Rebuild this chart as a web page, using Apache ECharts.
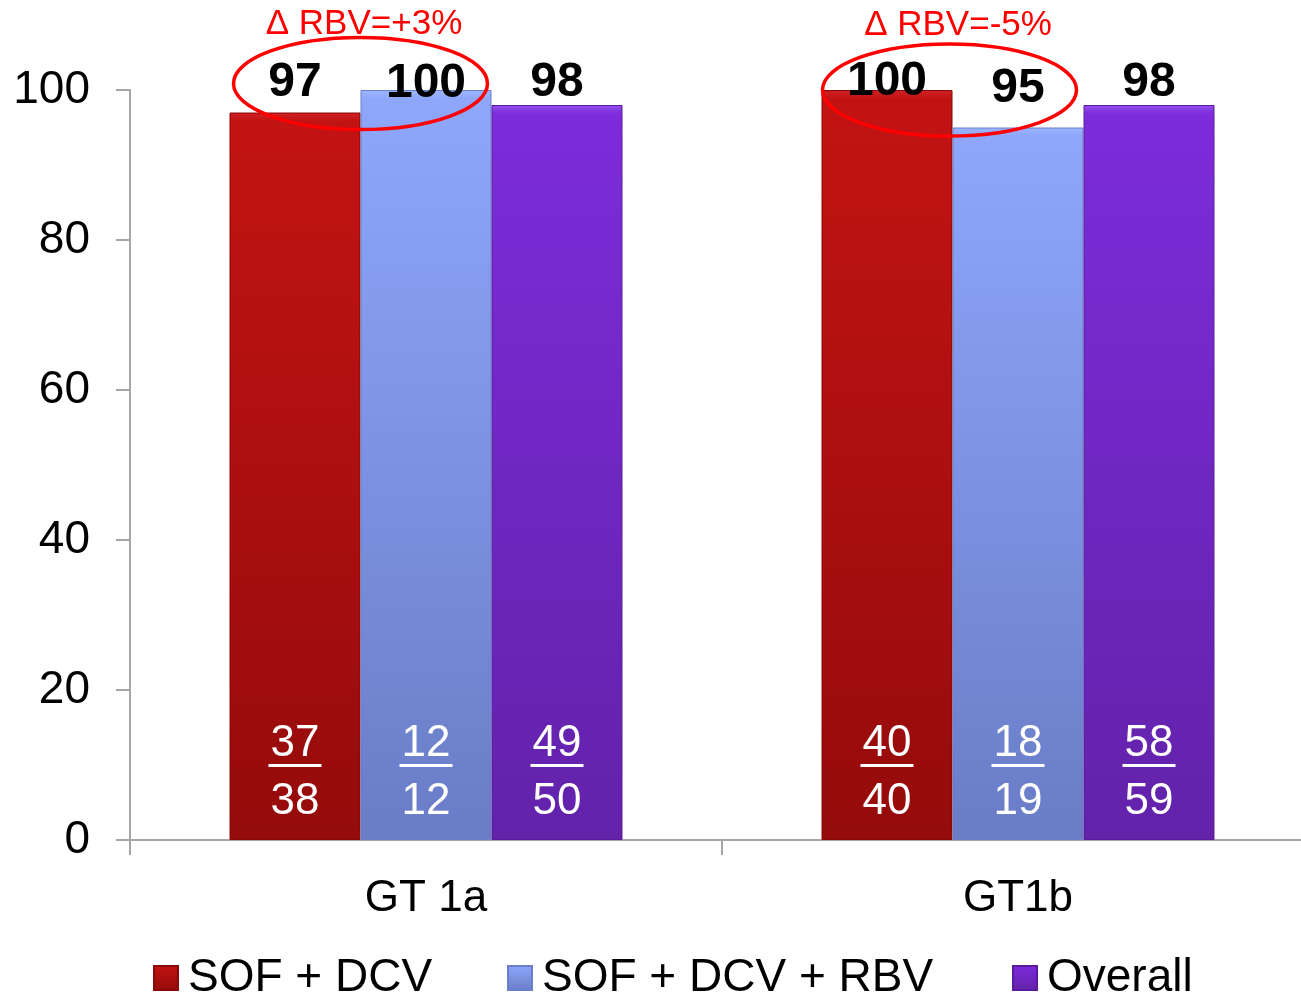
<!DOCTYPE html>
<html>
<head>
<meta charset="utf-8">
<script src="https://cdn.jsdelivr.net/npm/echarts@6/dist/echarts.min.js"></script>
<style>
html,body{margin:0;padding:0;background:#fff;overflow:hidden;width:1301px;height:993px;}
#chart{width:1314px;height:993px;}
</style>
</head>
<body>
<div id="chart"></div>
<script>
// ---------- data ----------
const categories = ['GT 1a', 'GT1b'];
const seriesNames = ['SOF + DCV', 'SOF + DCV + RBV', 'Overall'];
const sofDcv = [97, 100];
const sofDcvRbv = [100, 95];
const overall = [98, 98];
const sofDcvResponders = [37, 40];
const sofDcvPatients = [38, 40];
const sofDcvRbvResponders = [12, 18];
const sofDcvRbvPatients = [12, 19];
const overallResponders = [49, 58];
const overallPatients = [50, 59];
const yMin = 0, yMax = 100, yInterval = 20;
const annotations = ['\u0394 RBV=+3%', '\u0394 RBV=-5%'];

// ---------- styles ----------
const FONT = '"Liberation Sans", Arial, Helvetica, sans-serif';
const styles = [
  {bevel:'#cf2222', top:'#c21313', bottom:'#950b0b', border:'#870808'},
  {bevel:'#9db5ff', top:'#8ea7fb', bottom:'#6a7cc6', border:'#6a7fcc'},
  {bevel:'#9350ea', top:'#7c2cda', bottom:'#6222a9', border:'#5a1c9c'}
];
// glyph centre (px) of the value label above each bar [series][category]
const topLabelCenter = [[82.5, 82], [83.5, 89], [82.5, 82.5]];

function grad(s){
  return new echarts.graphic.LinearGradient(0,0,0,1,[
    {offset:0, color:s.bevel},
    {offset:0.012, color:s.top},
    {offset:1, color:s.bottom}
  ]);
}

const values = [sofDcv, sofDcvRbv, overall];
const responders = [sofDcvResponders, sofDcvRbvResponders, overallResponders];
const patients = [sofDcvPatients, sofDcvRbvPatients, overallPatients];

const series = seriesNames.map((name, si) => ({
  name: name,
  type: 'bar',
  data: values[si],
  barWidth: 131,
  barGap: '0%',
  itemStyle: {color: grad(styles[si]), borderColor: styles[si].border, borderWidth: 1},
  label: {
    show: true, position: 'top', distance: 0,
    fontSize: 48, fontWeight: 'bold', color: '#000', fontFamily: FONT
  },
  labelLayout: function(p){
    return {
      x: p.rect.x + p.rect.width / 2,
      y: topLabelCenter[si][p.dataIndex],
      align: 'center',
      verticalAlign: 'middle'
    };
  },
  markPoint: {
    symbol: 'circle', symbolSize: 1,
    itemStyle: {color: 'rgba(0,0,0,0)'},
    label: {
      show: true, position: 'top', distance: 4, color: '#fff', fontFamily: FONT,
      rich: {
        n: {fontSize: 44, lineHeight: 40, color: '#fff', fontFamily: FONT, align: 'center'},
        l: {fontSize: 2, lineHeight: 4, height: 3, width: 53, backgroundColor: '#fff', align: 'center'},
        d: {fontSize: 44, lineHeight: 68, color: '#fff', fontFamily: FONT, align: 'center'}
      }
    },
    data: categories.map((c, ci) => ({
      coord: [ci, 0],
      value: responders[si][ci],
      label: {formatter: '{n|' + responders[si][ci] + '}\n{l| }\n{d|' + patients[si][ci] + '}'}
    }))
  }
}));

const legendLeft = [148, 502, 1007];
const legends = seriesNames.map((name, i) => ({
  data: [name],
  left: legendLeft[i],
  top: 950,
  icon: 'rect',
  itemWidth: 24,
  itemHeight: 24,
  selectedMode: false,
  textStyle: {fontSize: 46, color: '#000', fontFamily: FONT, padding: [0,0,0,5]}
}));

const option = {
  animation: false,
  backgroundColor: '#fff',
  grid: {left: 130, top: 90, right: 0, height: 750, containLabel: false},
  legend: legends,
  xAxis: {
    type: 'category',
    data: categories,
    axisLine: {lineStyle: {color: '#a6a6a6', width: 2}},
    axisTick: {show: true, length: 15, lineStyle: {color: '#a6a6a6', width: 2}},
    axisLabel: {fontSize: 44, color: '#000', fontFamily: FONT, margin: 37}
  },
  yAxis: {
    type: 'value', min: yMin, max: yMax, interval: yInterval,
    splitLine: {show: false},
    axisLine: {show: true, lineStyle: {color: '#a6a6a6', width: 2}},
    axisTick: {show: true, length: 14, lineStyle: {color: '#a6a6a6', width: 2}},
    axisLabel: {fontSize: 46, color: '#000', fontFamily: FONT, margin: 40}
  },
  graphic: [
    {type: 'ellipse', z: 100, shape: {cx: 360.5, cy: 83.5, rx: 127, ry: 46}, style: {fill: 'none', stroke: '#ff0000', lineWidth: 3.5}},
    {type: 'ellipse', z: 100, shape: {cx: 949.5, cy: 90, rx: 127, ry: 46}, style: {fill: 'none', stroke: '#ff0000', lineWidth: 3.5}},
    {type: 'text', z: 100, x: 364, y: 24, style: {text: annotations[0], fill: '#ff0000', font: '35px ' + FONT, textAlign: 'center', textVerticalAlign: 'middle'}},
    {type: 'text', z: 100, x: 958, y: 25, style: {text: annotations[1], fill: '#ff0000', font: '35px ' + FONT, textAlign: 'center', textVerticalAlign: 'middle'}}
  ],
  series: series
};

const chart = echarts.init(document.getElementById('chart'), null, {renderer: 'canvas'});
chart.setOption(option);
</script>
</body>
</html>
